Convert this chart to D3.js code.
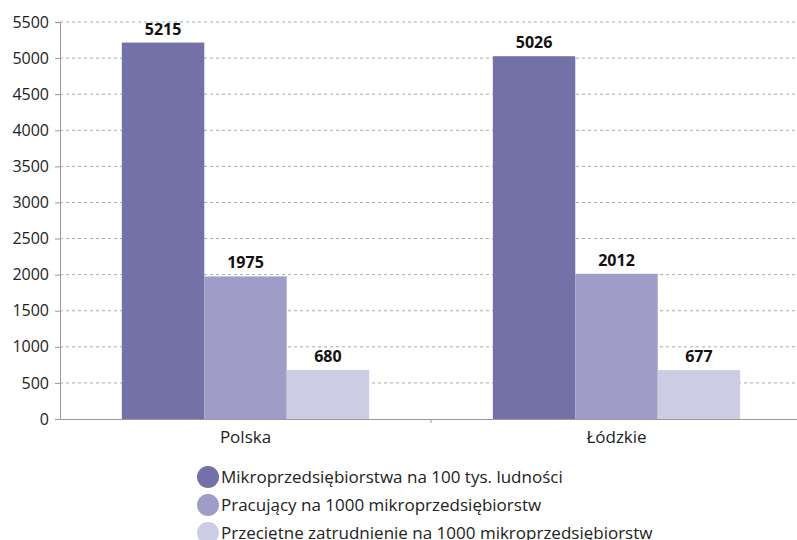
<!DOCTYPE html>
<html>
<head>
  <meta charset="utf-8">
  <style>
    body { margin: 0; background: #fff; }
    text { font-family: "Open Sans", "Noto Sans", sans-serif; }
    .grid line { stroke: #aaa; stroke-dasharray: 3,3; stroke-width: 1; }
    .label { font-weight: bold; font-size: 16px; fill: #111; }
  </style>
</head>
<body>
  <svg width="797" height="540"></svg>
  <script src="https://d3js.org/d3.v7.min.js"></script>
  <script>
    // dane
    var categories = ["Polska", "Łódzkie"];
    var seriesNames = [
      "Mikroprzedsiębiorstwa na 100 tys. ludności",
      "Pracujący na 1000 mikroprzedsiębiorstw",
      "Przeciętne zatrudnienie na 1000 mikroprzedsiębiorstw"
    ];
    var mikro = [5215, 5026];
    var pracujacy = [1975, 2012];
    var zatrudnienie = [680, 677];
    var yTicks = [0, 500, 1000, 1500, 2000, 2500, 3000, 3500, 4000, 4500, 5000, 5500];
    var colors = ["#7371a7", "#9f9dc7", "#cccce4"];

    var series = [mikro, pracujacy, zatrudnienie];

    var svg = d3.select("svg");
    var mLeft = 60, mRight = 802, mTop = 22, mBottom = 419;

    var x = d3.scaleBand().domain(categories).range([mLeft, mRight]).padding(0);
    var y = d3.scaleLinear().domain([0, 5500]).range([mBottom, mTop]);
    var inner = d3.scaleBand().domain([0, 1, 2])
      .range([x.bandwidth() / 6, x.bandwidth() * 5 / 6]).padding(0);

    // siatka
    svg.append("g").attr("class", "grid")
      .selectAll("line").data(yTicks.slice(1)).enter().append("line")
      .attr("x1", mLeft).attr("x2", 797)
      .attr("y1", function (d) { return y(d); })
      .attr("y2", function (d) { return y(d); });

    // oś Y
    var yAxis = svg.append("g").attr("transform", "translate(" + mLeft + ",0)")
      .call(d3.axisLeft(y).tickValues(yTicks).tickSize(5).tickPadding(6).tickFormat(d3.format("d")));
    yAxis.select(".domain").attr("stroke", "#999");
    yAxis.selectAll(".tick line").attr("stroke", "#999");
    yAxis.selectAll(".tick text").attr("font-size", "16px").attr("fill", "#222")
      .style("font-family", "'Open Sans', sans-serif");

    // słupki
    var groups = svg.selectAll(".grp").data(categories).enter().append("g")
      .attr("transform", function (d) { return "translate(" + x(d) + ",0)"; });

    groups.each(function (c, ci) {
      var g = d3.select(this);
      series.forEach(function (s, si) {
        g.append("rect")
          .attr("x", inner(si))
          .attr("width", inner.bandwidth())
          .attr("y", y(s[ci]))
          .attr("height", mBottom - y(s[ci]))
          .attr("fill", colors[si]);
        g.append("text").attr("class", "label")
          .attr("x", inner(si) + inner.bandwidth() / 2)
          .attr("y", y(s[ci]) - 8)
          .attr("text-anchor", "middle")
          .text(s[ci]);
      });
    });

    // oś X
    var xAxis = svg.append("g").attr("transform", "translate(0," + mBottom + ")")
      .call(d3.axisBottom(x).tickSize(0).tickPadding(12));
    xAxis.select(".domain").attr("stroke", "#999");
    xAxis.selectAll(".tick text").attr("font-size", "17px").attr("fill", "#222")
      .style("font-family", "'Open Sans', sans-serif");
    xAxis.append("line").attr("x1", x.step() + mLeft).attr("x2", x.step() + mLeft)
      .attr("y1", 0).attr("y2", 4).attr("stroke", "#999");

    // legenda
    var legend = svg.selectAll(".leg").data(seriesNames).enter().append("g")
      .attr("transform", function (d, i) { return "translate(208," + (477 + i * 28) + ")"; });
    legend.append("circle").attr("r", 11)
      .attr("fill", function (d, i) { return colors[i]; });
    legend.append("text").attr("x", 13).attr("dy", "0.35em")
      .attr("font-size", "17px").attr("fill", "#222")
      .text(function (d) { return d; });
  </script>
</body>
</html>
